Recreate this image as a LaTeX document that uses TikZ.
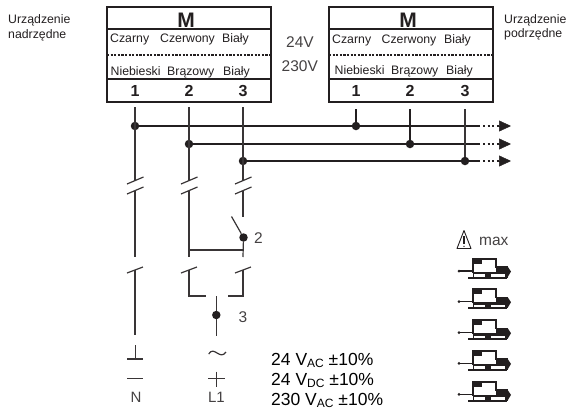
\documentclass[tikz,border=0pt]{standalone}
\usepackage{xcolor}
\usepackage{fontspec}
\setmainfont{Liberation Sans}
\usetikzlibrary{arrows.meta}

\definecolor{inkdark}{HTML}{231F20}
\tikzset{
    boxline/.style={draw=inkdark, line width=1.6pt},
    wire/.style={draw=inkdark!90, line width=1.2pt},
    bus/.style={draw=inkdark, line width=1.4pt},
    jdot/.style={circle, fill=inkdark, inner sep=0pt, minimum size=8.5pt},
    label/.style={text=inkdark, font=\fontsize{12.3}{14}\selectfont, inner sep=0pt, anchor=base west},
    volt/.style={text=inkdark!85, font=\fontsize{15.5}{18}\selectfont, inner sep=0pt, anchor=base west},
    mains/.style={text=inkdark!85, font=\fontsize{15}{17}\selectfont, inner sep=0pt},
    supply/.style={text=black, font=\fontsize{17.5}{20}\selectfont, inner sep=0pt, anchor=base west},
    title/.style={text=inkdark, font=\bfseries\fontsize{21}{23}\selectfont, inner sep=0pt},
    term/.style={text=inkdark, font=\bfseries\fontsize{16}{18}\selectfont, inner sep=0pt},
    actuator/.pic={
        \draw[inkdark, line width=1.5pt] (-14,12.5) -- (0,12.5);
        \fill[inkdark] (-14,12.5) circle (1.5);
        \draw[inkdark, line width=2pt] (0,14) -- (0,0) -- (22.5,0) -- (22.5,9);
        \fill[inkdark] (0,0) rectangle (9,5);
        \fill[inkdark] (22.5,7.5) rectangle (35,14);
        \fill[inkdark] (35,8.5) -- (38,13) -- (35,18) -- cycle;
        \fill[inkdark] (0,13) rectangle (35,15.5);
        \fill[inkdark] (-5,18) rectangle (34,20.2);
        \fill[inkdark] (11.5,15) rectangle (18,18);
        \fill[inkdark] (31.5,13) rectangle (35,19);
        \fill[inkdark] (0,15) rectangle (1,18);
    },
}

\begin{document}
\begin{tikzpicture}[x=1pt, y=-1pt]
    \useasboundingbox (0,0) rectangle (566,408);
    % Left device
    \node[label] (lefta) at (8,23) {Urządzenie};
    \node[label] (leftb) at (8,38) {nadrzędne};
    \draw[boxline] (107,7) rectangle (271,102);
    \draw[boxline] (107,29) -- (271,29);
    \draw[boxline] (107,79) -- (271,79);
    \draw[inkdark, line width=1.5pt, dash pattern=on 2.2pt off 1.4pt] (107,55) -- (271,55);
    \node[title] (lm) at (186,20) {M};
    \node[label] (lb1) at (110,42) {Czarny};
    \node[label] (lb2) at (160,42) {Czerwony};
    \node[label] (lb3) at (222,42) {Biały};
    \node[label] (lc1) at (110.5,75) {Niebieski};
    \node[label] (lc2) at (167,75) {Brązowy};
    \node[label] (lc3) at (223,75) {Biały};
    \node[term] (lt1) at (135,91) {1};
    \node[term] (lt2) at (189,91) {2};
    \node[term] (lt3) at (243,91) {3};
    % Voltages
    \node[volt] (v24) at (286,47) {24V};
    \node[volt] (v230) at (281.5,71) {230V};
    % Right device
    \draw[boxline] (329,7) rectangle (493,102);
    \draw[boxline] (329,29) -- (493,29);
    \draw[boxline] (329,79) -- (493,79);
    \draw[inkdark, line width=1.5pt, dash pattern=on 2.2pt off 1.4pt] (329,55) -- (493,55);
    \node[title] (rm) at (408,20) {M};
    \node[label] (rb1) at (332,43) {Czarny};
    \node[label] (rb2) at (381.5,43) {Czerwony};
    \node[label] (rb3) at (444,43) {Biały};
    \node[label] (rc1) at (334.5,74) {Niebieski};
    \node[label] (rc2) at (391,74) {Brązowy};
    \node[label] (rc3) at (446,74) {Biały};
    \node[term] (rt1) at (356,91) {1};
    \node[term] (rt2) at (410,91) {2};
    \node[term] (rt3) at (465,91) {3};
    \node[label] (righta) at (504,23) {Urządzenie};
    \node[label] (rightb) at (504,37) {podrzędne};
    % Bus junctions
    \node[jdot] (ja) at (135,126) {};
    \node[jdot] (jb) at (189,144) {};
    \node[jdot] (jc) at (243,161) {};
    \node[jdot] (ka) at (356,126) {};
    \node[jdot] (kb) at (410,144) {};
    \node[jdot] (kc) at (465,161) {};
    \foreach \n/\y in {a/126, b/144, c/161} {
        \coordinate (e\n) at (480,\y);
        \coordinate (h\n) at (499,\y);
        \coordinate (g\n) at (511,\y);
        \draw[bus] (j\n) -- (k\n) -- (e\n);
        \draw[bus, dash pattern=on 2pt off 2.6pt, shorten <=3pt] (e\n) -- (h\n);
        \draw[-{Triangle[length=12pt, width=11pt]}, inkdark, line width=0.5pt] (h\n) -- (g\n);
    }
    \draw[bus] (356,109) -- (ka);
    \draw[bus] (410,109) -- (kb);
    \draw[wire] (465,109) -- (kc);
    % Contacts
    \foreach \n/\x in {a/135, b/189, c/243} {
        \coordinate (top\n) at (\x,107);
        \coordinate (up\n) at (\x,181);
        \coordinate (low\n) at (\x,191);
        \coordinate (lift\n) at (\x,257);
        \coordinate (drop\n) at (\x,270);
        \draw[wire] (\x-8,184) -- (\x+8.5,177);
        \draw[wire] (\x-8,194) -- (\x+8.5,187);
        \draw[wire] (\x-8,273) -- (\x+8,267);
        \draw[wire] (top\n) -- (up\n);
    }
    \draw[wire] (lowa) -- (lifta);
    \draw[wire] (dropa) -- (135,335) coordinate (enda);
    % Switch 2
    \node[jdot] (sw) at (243.5,237.5) {};
    \coordinate (swend) at (243,217);
    \coordinate (blade) at (231.5,216.5);
    \coordinate (link) at (243,250);
    \draw[wire] (lowb) -- (liftb);
    \draw[wire] (lowc) -- (swend);
    \draw[wire] (blade) -- (sw) -- (liftc);
    \draw[wire] (189,250) -- (link);
    \node[volt] (ntwo) at (254,243.5) {2};
    % Switch 3
    \node[jdot] (swb) at (216.3,315) {};
    \coordinate (feed) at (216.3,296);
    \coordinate (feedend) at (216.3,335.5);
    \coordinate (hookb) at (206,296);
    \coordinate (hookc) at (227.5,296);
    \draw[wire] (dropb) |- (hookb);
    \draw[wire] (dropc) |- (hookc);
    \draw[wire] (feed) -- (swb) -- (feedend);
    \node[volt] (nthree) at (238.5,322) {3};
    % Supply symbols
    \coordinate (gnd) at (135.5,345);
    \coordinate (gndb) at (135.5,359);
    \draw[wire] (gnd) -- (gndb);
    \draw[wire] (127,359) -- (143,359);
    \draw[wire] (127,378.7) -- (143,378.7);
    \node[mains] (nn) at (136,397) {N};
    \draw[wire] (208.7,354) .. controls (214,345) and (220,361) .. (226,352);
    \draw[wire] (208,378.7) -- (225,378.7);
    \draw[wire] (216.3,371.5) -- (216.3,386.5);
    \node[mains] (nl) at (216.5,397) {L1};
    % Supply text
    \node[supply] (sa) at (271,365) {24 V\raisebox{-0.12em}{\fontsize{12}{12}\selectfont AC} ±10\%};
    \node[supply] (sb) at (271,385.5) {24 V\raisebox{-0.12em}{\fontsize{12}{12}\selectfont DC} ±10\%};
    \node[supply] (sc) at (271,405.3) {230 V\raisebox{-0.12em}{\fontsize{12}{12}\selectfont AC} ±10\%};
    % Warning and actuators
    \draw[inkdark, line width=0.9pt, line join=round] (457,248.5) -- (464,230.5) -- (471,248.5) -- cycle;
    \draw[inkdark, line width=1.1pt] (464,236) -- (464,243.5);
    \fill[inkdark] (464,246.3) circle (0.7);
    \node[volt] (mx) at (479,245) {max};
    \foreach \y in {258.5,289.2,320.2,350.9,381.9} {
        \pic at (473,\y) {actuator};
    }
\end{tikzpicture}
\end{document}
